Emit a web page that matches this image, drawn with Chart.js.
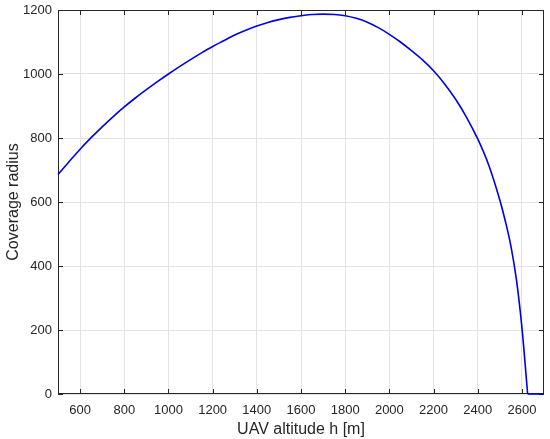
<!DOCTYPE html>
<html>
<head>
<meta charset="utf-8">
<script src="https://cdn.jsdelivr.net/npm/chart.js@4.4.1/dist/chart.umd.min.js"></script>
<style>
  html, body { margin: 0; padding: 0; background: #fff; }
  #wrap { width: 550px; height: 439px; position: relative; }
</style>
</head>
<body>
<div id="wrap"><canvas id="chart"></canvas></div>
<script>
// altitude h [m] and coverage radius
const altitude = [500, 550, 600, 650, 700, 750, 800, 850, 900, 950, 1000, 1050, 1100, 1150,
  1200, 1250, 1300, 1350, 1400, 1450, 1500, 1550, 1600, 1650, 1700, 1750, 1800, 1850, 1900,
  1950, 2000, 2050, 2100, 2150, 2200, 2250, 2300, 2350, 2400, 2450, 2500, 2525, 2550, 2575,
  2600, 2626];
const radius = [686, 726, 765, 801, 835, 867, 897, 925, 951, 976, 1000, 1023, 1045, 1066,
  1086, 1104, 1122, 1137, 1150, 1161, 1170, 1177, 1182, 1186, 1187, 1186, 1182, 1174, 1162,
  1145, 1124, 1100, 1073, 1044, 1010, 969, 921, 864, 797, 715, 606, 540, 463, 358,
  208, 0];
// после обрыва радиус остаётся нулевым
const tailAltitude = [2626, 2700];
const tailRadius = [0, 0];

const xTicks = [600, 800, 1000, 1200, 1400, 1600, 1800, 2000, 2200, 2400, 2600];
const yTicks = [0, 200, 400, 600, 800, 1000, 1200];

const AXIS_COLOR = "#262626";
const GRID_COLOR = "#e3e3e3";
const LINE_COLOR = "#0000e6";
const FONT = "'Liberation Sans', Arial, Helvetica, sans-serif";

// рамка и внутренние засечки как в MATLAB
const boxPlugin = {
  id: "box",
  beforeDatasetsDraw(chart) {
    const { ctx, chartArea: a, scales } = chart;
    const len = 5;
    ctx.save();
    ctx.strokeStyle = AXIS_COLOR;
    ctx.lineWidth = 1;
    ctx.beginPath();
    xTicks.forEach((v) => {
      const px = Math.round(scales.x.getPixelForValue(v)) + 0.5;
      ctx.moveTo(px, a.bottom);
      ctx.lineTo(px, a.bottom - len);
      ctx.moveTo(px, a.top);
      ctx.lineTo(px, a.top + len);
    });
    yTicks.forEach((v) => {
      const py = Math.round(scales.y.getPixelForValue(v)) + 0.5;
      ctx.moveTo(a.left, py);
      ctx.lineTo(a.left + len, py);
      ctx.moveTo(a.right, py);
      ctx.lineTo(a.right - len, py);
    });
    ctx.stroke();
    ctx.strokeRect(a.left + 0.5, a.top + 0.5, a.right - a.left - 1, a.bottom - a.top - 1);
    ctx.restore();
  },
};

function initChart() {
  const el = document.getElementById("chart");
  new Chart(el, {
    type: "line",
    data: {
      datasets: [
        {
          data: altitude.map((h, i) => ({ x: h, y: radius[i] })),
          borderColor: LINE_COLOR,
          borderWidth: 1.6,
          pointRadius: 0,
          cubicInterpolationMode: "monotone",
          fill: false,
          clip: 3,
        },
        {
          data: tailAltitude.map((h, i) => ({ x: h, y: tailRadius[i] })),
          borderColor: LINE_COLOR,
          borderWidth: 1.6,
          pointRadius: 0,
          tension: 0,
          fill: false,
          clip: 3,
        },
      ],
    },
    options: {
      responsive: true,
      maintainAspectRatio: false,
      animation: false,
      layout: { padding: { left: 2, right: 6, top: 10, bottom: 0 } },
      plugins: { legend: { display: false }, tooltip: { enabled: false } },
      scales: {
        x: {
          type: "linear",
          min: 500,
          max: 2700,
          afterBuildTicks: (scale) => {
            scale.ticks = xTicks.map((v) => ({ value: v }));
          },
          afterFit: (scale) => {
            scale.height = 45;
            scale.paddingLeft = 0;
            scale.paddingRight = 0;
          },
          grid: { color: GRID_COLOR, drawTicks: false },
          border: { display: false },
          ticks: {
            padding: 9,
            color: AXIS_COLOR,
            font: { family: FONT, size: 13 },
            maxRotation: 0,
            callback: (v) => String(v),
          },
          title: {
            display: true,
            text: "UAV altitude h [m]",
            color: AXIS_COLOR,
            font: { family: FONT, size: 16 },
            padding: { top: 0, bottom: 0 },
          },
        },
        y: {
          min: 0,
          max: 1200,
          afterBuildTicks: (scale) => {
            scale.ticks = yTicks.map((v) => ({ value: v }));
          },
          afterFit: (scale) => {
            scale.width = 56;
            scale.paddingTop = 0;
            scale.paddingBottom = 0;
          },
          grid: { color: GRID_COLOR, drawTicks: false },
          border: { display: false },
          ticks: {
            padding: 6,
            color: AXIS_COLOR,
            font: { family: FONT, size: 13 },
            callback: (v) => String(v),
          },
          title: {
            display: true,
            text: "Coverage radius",
            color: AXIS_COLOR,
            font: { family: FONT, size: 16 },
            padding: { top: 2, bottom: 0 },
          },
        },
      },
    },
    plugins: [boxPlugin],
  });
}

initChart();
</script>
</body>
</html>
